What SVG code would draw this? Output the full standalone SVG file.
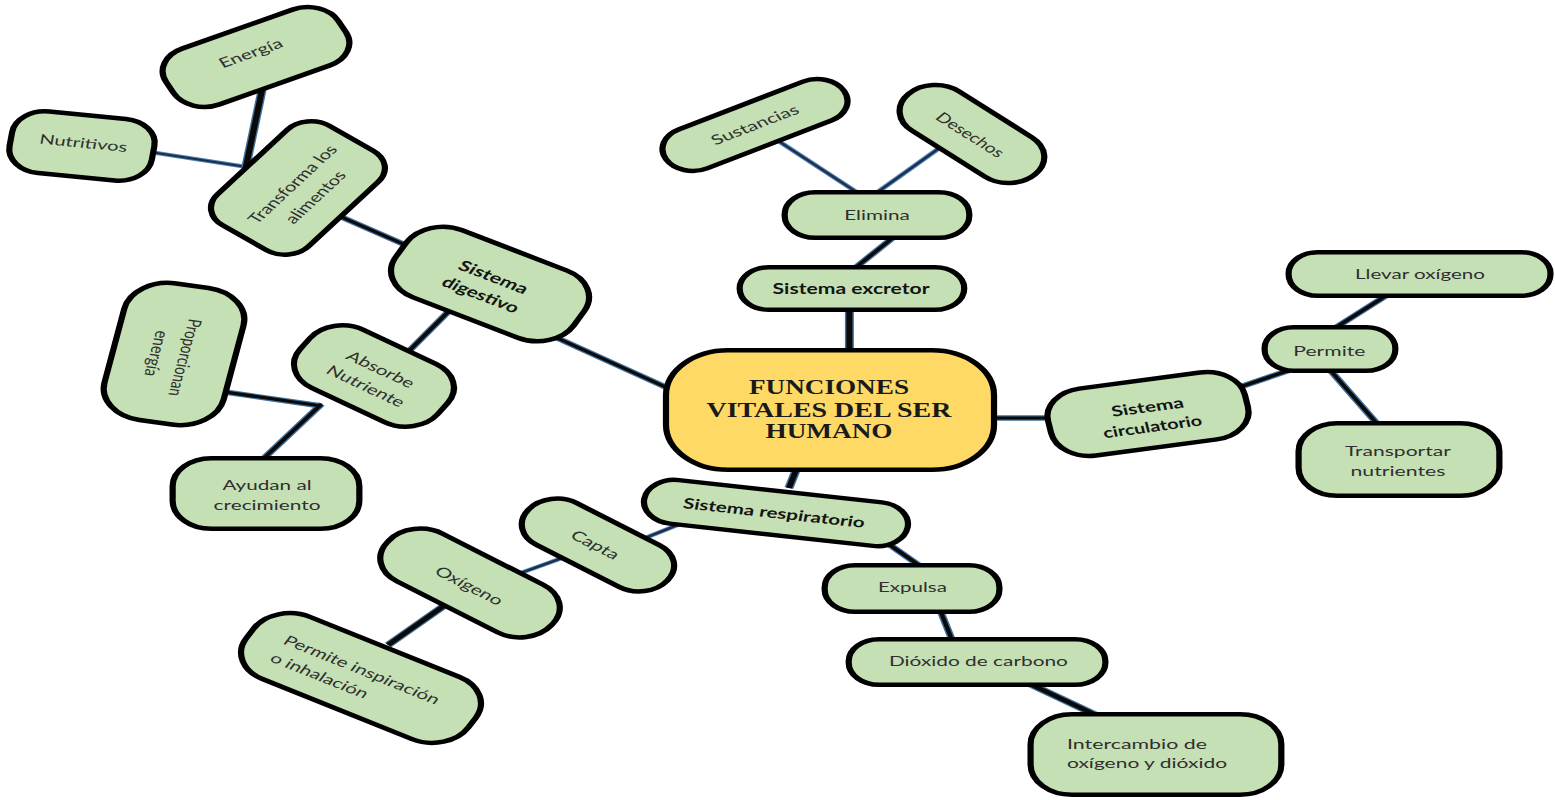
<svg xmlns="http://www.w3.org/2000/svg" xmlns:xlink="http://www.w3.org/1999/xlink" width="1555" height="800" viewBox="0 0 1555 800">
<style>
.n{fill:#C5E0B4;stroke:#000;stroke-width:4.5}
.c{fill:#FFD966;stroke:#000;stroke-width:4.5}
.t{font-family:Lato,"Liberation Sans",sans-serif;font-size:13.5px;fill:#2f2f2f;text-anchor:middle}
.s{text-anchor:start}
.b{font-weight:bold;fill:#141414;font-size:14.5px}
.ct{font-family:"Liberation Serif",serif;font-weight:bold;font-size:20px;fill:#1a1a1a;text-anchor:middle}
.o1{stroke:#4F7FB5;stroke-width:4;fill:none}
.i1{stroke:#1c2f48;stroke-width:2;fill:none}
.o2{stroke:#41719C;stroke-width:5.5;fill:none}
.i2{stroke:#0a0a0a;stroke-width:3.2;fill:none}
.o3{stroke:#41719C;stroke-width:6.5;fill:none}
.i3{stroke:#0a0a0a;stroke-width:4.4;fill:none}
</style>
<defs>
<g id="thin">
<path d="M108.7,152 L179,167"/>
<path d="M621.7,193 L565.2,142"/>
<path d="M634,194 L679.7,149"/>
<path d="M409.4,557 L373.2,575"/>
<path d="M496.4,522 L463.8,540"/>
</g>
<g id="med">
<path d="M239.1,212 L297.1,247"/>
<path d="M402.2,337 L487,390"/>
<path d="M327.5,308 L297.1,350"/>
<path d="M158,391 L233,406"/>
<path d="M233,404 L189.9,460"/>
<path d="M619.6,268 L648.6,236"/>
<path d="M719.6,418 L760.9,418"/>
<path d="M898.6,387 L934.8,370"/>
<path d="M967.4,328 L1010.9,290"/>
<path d="M963.8,370 L1000,427"/>
<path d="M642.8,543 L666.7,566"/>
<path d="M681.2,610 L689.9,640"/>
</g>
<g id="thick">
<path d="M189.9,90 L178,168"/>
<path d="M615.5,308 L615.5,352"/>
<path d="M577.5,468 L571.7,488"/>
<path d="M324.6,603 L281.2,645"/>
<path d="M746.4,684 L797.1,717"/>
</g>
</defs>
<rect width="1555" height="800" fill="#fff"/>
<g transform="scale(1.38,1)">
<g id="connectors">
<use xlink:href="#thin" class="o1"/><use xlink:href="#thin" class="i1"/>
<use xlink:href="#med" class="o2"/><use xlink:href="#med" class="i2"/>
<use xlink:href="#thick" class="o3"/><use xlink:href="#thick" class="i3"/>
</g>

<g id="n-center">
<rect class="c" x="482.6" y="350.2" width="237.7" height="119.6" rx="45"/>
<text class="ct" x="600.7" y="394" textLength="116" lengthAdjust="spacingAndGlyphs">FUNCIONES</text>
<text class="ct" x="600.7" y="417" textLength="177.5" lengthAdjust="spacingAndGlyphs">VITALES DEL SER</text>
<text class="ct" x="600.7" y="438.5" textLength="92" lengthAdjust="spacingAndGlyphs">HUMANO</text>
</g>

<g id="n-excretor">
<rect class="n" x="536" y="267.2" width="162.7" height="42.6" rx="21"/>
<text class="t b" x="616.7" y="294" textLength="113.8" lengthAdjust="spacingAndGlyphs">Sistema excretor</text>
</g>
<g id="n-elimina">
<rect class="n" x="568.6" y="192.2" width="133.8" height="45.6" rx="22"/>
<text class="t" x="635.5" y="220.5" textLength="47.6" lengthAdjust="spacingAndGlyphs">Elimina</text>
</g>
<g id="n-sustancias">
<rect class="n" transform="translate(547.1,125) rotate(-28)" x="-73" y="-22" width="146" height="44" rx="22"/>
<text class="t" transform="translate(547.1,125) rotate(-28)" y="4.5" textLength="69.9" lengthAdjust="spacingAndGlyphs">Sustancias</text>
</g>
<g id="n-desechos">
<rect class="n" transform="translate(704.3,134) rotate(41)" x="-61" y="-26" width="122" height="52" rx="26"/>
<text class="t" transform="translate(702.9,135) rotate(41)" y="4.5" textLength="60.9" lengthAdjust="spacingAndGlyphs">Desechos</text>
</g>

<g id="n-circulatorio">
<rect class="n" transform="translate(831.9,414) rotate(-10.4)" x="-72.5" y="-34" width="145" height="68" rx="28"/>
<g transform="translate(833.3,417) rotate(-10.4)">
<text class="t b" y="-5" textLength="53" lengthAdjust="spacingAndGlyphs">Sistema</text>
<text class="t b" y="15" textLength="72.5" lengthAdjust="spacingAndGlyphs">circulatorio</text>
</g>
</g>
<g id="n-permite">
<rect class="n" x="916.4" y="327.2" width="94.7" height="43.6" rx="21"/>
<text class="t" x="963.3" y="356" textLength="52.2" lengthAdjust="spacingAndGlyphs">Permite</text>
</g>
<g id="n-llevar">
<rect class="n" x="933.8" y="252.2" width="189.7" height="43.6" rx="21"/>
<text class="t" x="1029" y="279" textLength="94.2" lengthAdjust="spacingAndGlyphs">Llevar oxígeno</text>
</g>
<g id="n-transportar">
<rect class="n" x="941" y="423.2" width="145.5" height="72.6" rx="28"/>
<text class="t" x="1013" y="456.5" textLength="76.8" lengthAdjust="spacingAndGlyphs">Transportar</text>
<text class="t" x="1013" y="476.5" textLength="68.8" lengthAdjust="spacingAndGlyphs">nutrientes</text>
</g>

<g id="n-respiratorio">
<rect class="n" transform="translate(562.3,513) rotate(8.6)" x="-96.5" y="-22" width="193" height="44" rx="22"/>
<text class="t b" transform="translate(560.9,513) rotate(8.6)" y="5" textLength="133" lengthAdjust="spacingAndGlyphs">Sistema respiratorio</text>
</g>
<g id="n-expulsa">
<rect class="n" x="597.6" y="565.2" width="126.6" height="46.6" rx="22"/>
<text class="t" x="661.2" y="592.5" textLength="50" lengthAdjust="spacingAndGlyphs">Expulsa</text>
</g>
<g id="n-dioxido">
<rect class="n" x="615" y="639.2" width="186" height="45.6" rx="22"/>
<text class="t" x="709" y="666.5" textLength="129.7" lengthAdjust="spacingAndGlyphs">Dióxido de carbono</text>
</g>
<g id="n-intercambio">
<rect class="n" x="746.8" y="714.2" width="181.7" height="80.6" rx="30"/>
<text class="t s" x="773.2" y="749" textLength="101.4" lengthAdjust="spacingAndGlyphs">Intercambio de</text>
<text class="t s" x="773.2" y="768" textLength="116" lengthAdjust="spacingAndGlyphs">oxígeno y dióxido</text>
</g>
<g id="n-capta">
<rect class="n" transform="translate(433.3,545) rotate(35)" x="-61.5" y="-25.5" width="123" height="51" rx="25"/>
<text class="t" transform="translate(431.2,545) rotate(35)" y="4.5" textLength="40" lengthAdjust="spacingAndGlyphs">Capta</text>
</g>
<g id="n-oxigeno">
<rect class="n" transform="translate(340.6,583) rotate(35)" x="-72.5" y="-29" width="145" height="58" rx="28"/>
<text class="t" transform="translate(339.9,586) rotate(35)" y="4.5" textLength="57" lengthAdjust="spacingAndGlyphs">Oxígeno</text>
</g>
<g id="n-inspiracion">
<rect class="n" transform="translate(261.6,678) rotate(29)" x="-92" y="-35.5" width="184" height="71" rx="30"/>
<g transform="translate(262.1,670) rotate(29)">
<text class="t" y="4.5" textLength="127" lengthAdjust="spacingAndGlyphs">Permite inspiración</text>
<text class="t s" x="-63.5" y="24.5" textLength="79" lengthAdjust="spacingAndGlyphs">o inhalación</text>
</g>
</g>

<g id="n-digestivo">
<rect class="n" transform="translate(355.1,284) rotate(28)" x="-73" y="-38" width="146" height="76" rx="30"/>
<g transform="translate(352.9,286) rotate(28)">
<text class="t b" y="-5" textLength="55" lengthAdjust="spacingAndGlyphs">Sistema</text>
<text class="t b" y="15" textLength="61" lengthAdjust="spacingAndGlyphs">digestivo</text>
</g>
</g>
<g id="n-transforma">
<rect class="n" transform="translate(215.9,188) rotate(-52)" x="-63" y="-42" width="126" height="84" rx="22"/>
<g transform="translate(220.4,190.9) rotate(-52)">
<text class="t" y="-6" textLength="95.5" lengthAdjust="spacingAndGlyphs">Transforma los</text>
<text class="t" y="15" textLength="62.6" lengthAdjust="spacingAndGlyphs">alimentos</text>
</g>
</g>
<g id="n-energia">
<rect class="n" transform="translate(185.5,57) rotate(-26)" x="-69.5" y="-31" width="139" height="62" rx="25"/>
<text class="t" transform="translate(181.7,53.3) rotate(-26)" y="4.5" textLength="49.7" lengthAdjust="spacingAndGlyphs">Energía</text>
</g>
<g id="n-nutritivos">
<rect class="n" transform="translate(59.4,146) rotate(7.6)" x="-52" y="-31" width="104" height="62" rx="24"/>
<text class="t" transform="translate(60.4,143.3) rotate(7.6)" y="4.5" textLength="64.2" lengthAdjust="spacingAndGlyphs">Nutritivos</text>
</g>
<g id="n-absorbe">
<rect class="n" transform="translate(271,376) rotate(33)" x="-59.5" y="-34.5" width="119" height="69" rx="28"/>
<g transform="translate(270.3,378) rotate(33)">
<text class="t" y="-5.5" textLength="55.8" lengthAdjust="spacingAndGlyphs">Absorbe</text>
<text class="t" y="14.5" textLength="64.6" lengthAdjust="spacingAndGlyphs">Nutriente</text>
</g>
</g>
<g id="n-proporcionan">
<rect class="n" transform="translate(126.1,354) rotate(101)" x="-69.5" y="-44" width="139" height="88" rx="32"/>
<g transform="translate(123.6,355.5) rotate(101)">
<text class="t" y="-6" textLength="78" lengthAdjust="spacingAndGlyphs">Proporcionan</text>
<text class="t" y="15" textLength="46.3" lengthAdjust="spacingAndGlyphs">energía</text>
</g>
</g>
<g id="n-ayudan">
<rect class="n" x="125.1" y="458.2" width="135.3" height="70.6" rx="28"/>
<text class="t" x="193.5" y="490" textLength="64.5" lengthAdjust="spacingAndGlyphs">Ayudan al</text>
<text class="t" x="193.5" y="510" textLength="77.5" lengthAdjust="spacingAndGlyphs">crecimiento</text>
</g>
</g>
</svg>
